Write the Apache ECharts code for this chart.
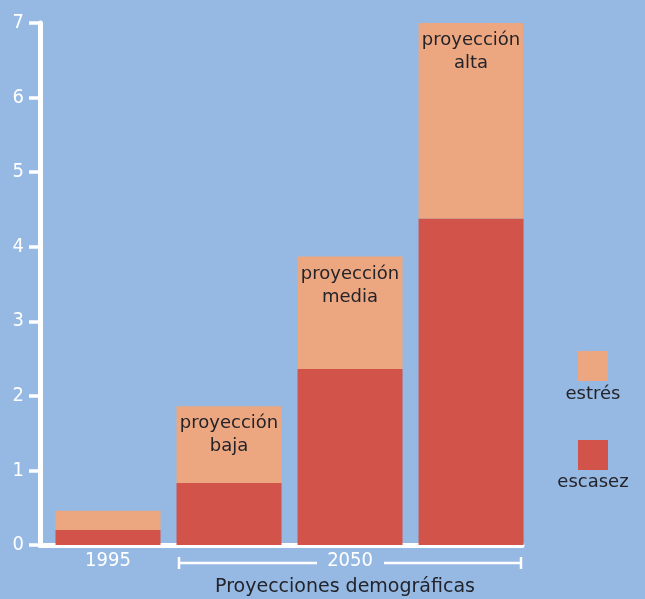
<!DOCTYPE html>
<html>
<head>
<meta charset="utf-8">
<script src="https://cdn.jsdelivr.net/npm/echarts@6/dist/echarts.min.js"></script>
<style>
  html, body { margin: 0; padding: 0; background: #96b9e3; }
  #chart { width: 645px; height: 599px; }
</style>
</head>
<body>
<div id="chart"></div>
<script>
// ---- data ----
const positions = [0, 1, 2, 3];
const periodLabels = { 0: '1995', 2: '2050' };
const barNames = ['', 'proyección\nbaja', 'proyección\nmedia', 'proyección\nalta'];
const escasez = [0.2, 0.83, 2.36, 4.38];
const estres = [0.26, 1.03, 1.51, 2.62];
const yTicks = [0, 1, 2, 3, 4, 5, 6, 7];
const seriesNames = ['escasez', 'estrés'];
const axisTitle = 'Proyecciones demográficas';

const C_ESC = '#d1534a';
const C_EST = '#eca781';
const WHITE = '#ffffff';
const DARK = '#23232a';
const NUMFONT = 'DejaVu Sans Condensed';
const TXTFONT = 'DejaVu Sans';

const chart = echarts.init(document.getElementById('chart'));

const option = {
  backgroundColor: '#96b9e3',
  animation: false,
  grid: { left: 40, right: 123, top: 23, bottom: 54 },
  xAxis: {
    type: 'value',
    min: -0.562,
    max: 3.421,
    splitLine: { show: false },
    axisLine: { show: true, onZero: false, lineStyle: { color: WHITE, width: 5 } },
    axisTick: { show: false },
    axisLabel: {
      show: true,
      customValues: [0, 2],
      formatter: v => periodLabels[Math.round(v)] || '',
      color: WHITE,
      fontFamily: NUMFONT,
      fontSize: 20,
      margin: 6
    }
  },
  yAxis: {
    type: 'value',
    min: 0,
    max: 7,
    interval: 1,
    splitLine: { show: false },
    axisLine: { show: true, onZero: false, lineStyle: { color: WHITE, width: 5 } },
    axisTick: { show: true, length: 11, lineStyle: { color: WHITE, width: 3.5 } },
    axisLabel: {
      color: WHITE,
      fontFamily: NUMFONT,
      fontSize: 20,
      margin: 16
    }
  },
  legend: {
    orient: 'vertical',
    left: 578,
    top: 351,
    padding: 0,
    itemWidth: 30,
    itemHeight: 30,
    itemGap: 59,
    icon: 'rect',
    data: [seriesNames[1], seriesNames[0]],
    formatter: () => '',
    selectedMode: false
  },
  series: [
    {
      name: seriesNames[0],
      type: 'bar',
      stack: 'total',
      barWidth: 105,
      itemStyle: { color: C_ESC },
      encode: { x: 1, y: 0 },
      data: positions.map((p, i) => [escasez[i], p])
    },
    {
      name: seriesNames[1],
      type: 'bar',
      stack: 'total',
      barWidth: 105,
      itemStyle: { color: C_EST },
      encode: { x: 1, y: 0 },
      label: {
        show: true,
        position: 'insideTop',
        distance: 6,
        color: DARK,
        fontFamily: TXTFONT,
        fontSize: 18,
        lineHeight: 23,
        align: 'center',
        formatter: p => barNames[p.dataIndex]
      },
      data: positions.map((p, i) => [estres[i], p])
    }
  ],
  graphic: [
    { type: 'text', style: { text: seriesNames[1], x: 593, y: 394, textAlign: 'center', textVerticalAlign: 'middle', fill: DARK, font: '18px "DejaVu Sans"' } },
    { type: 'text', style: { text: seriesNames[0], x: 593, y: 482, textAlign: 'center', textVerticalAlign: 'middle', fill: DARK, font: '18px "DejaVu Sans"' } },
    { type: 'text', style: { text: axisTitle, x: 345, y: 587, textAlign: 'center', textVerticalAlign: 'middle', fill: DARK, font: '19px "DejaVu Sans"' } },
    { type: 'line', shape: { x1: 178, y1: 563, x2: 317, y2: 563 }, style: { stroke: WHITE, lineWidth: 2.5 } },
    { type: 'line', shape: { x1: 384, y1: 563, x2: 522, y2: 563 }, style: { stroke: WHITE, lineWidth: 2.5 } },
    { type: 'line', shape: { x1: 179, y1: 557, x2: 179, y2: 569 }, style: { stroke: WHITE, lineWidth: 2.5 } },
    { type: 'line', shape: { x1: 521, y1: 557, x2: 521, y2: 569 }, style: { stroke: WHITE, lineWidth: 2.5 } }
  ]
};

chart.setOption(option);
</script>
</body>
</html>
